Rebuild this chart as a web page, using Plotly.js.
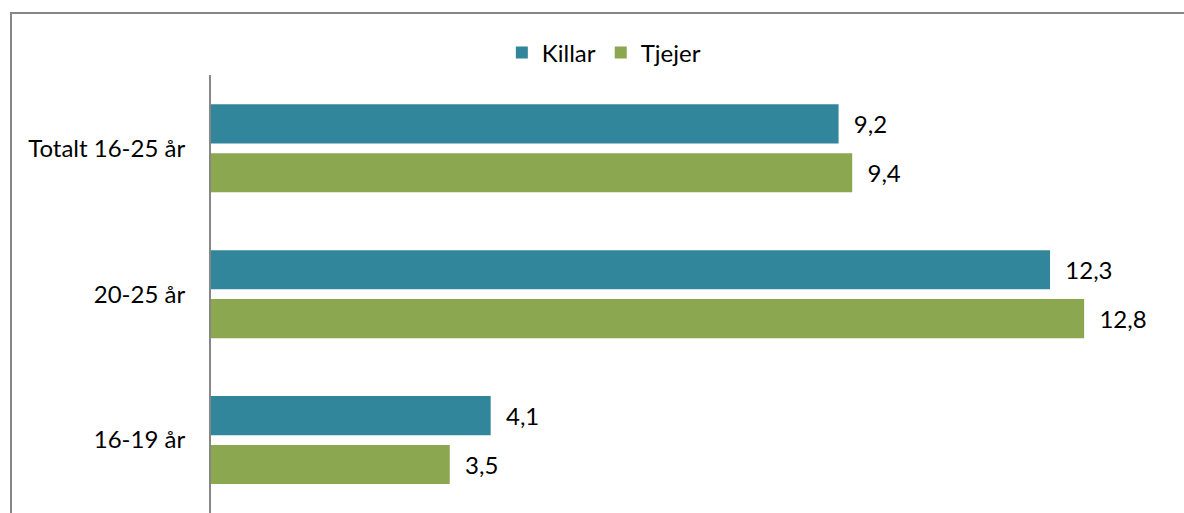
<!DOCTYPE html>
<html>
<head>
<meta charset="utf-8">
<script src="https://cdn.plot.ly/plotly-3.0.1.min.js"></script>
<style>
  html, body { margin: 0; padding: 0; background: #fff; }
  #wrap { position: relative; width: 1184px; height: 513px; overflow: hidden; }
  #chart { width: 1184px; height: 513px; }
  #frame { position: absolute; left: 10px; top: 12px; width: 1300px; height: 700px;
           border-left: 2px solid #868686; border-top: 2px solid #868686; pointer-events: none; }
</style>
</head>
<body>
<div id="wrap">
  <div id="chart"></div>
  <div id="frame"></div>
</div>
<script>
const categories = ['Totalt 16-25 år', '20-25 år', '16-19 år'];
const killar = [9.2, 12.3, 4.1];
const tjejer = [9.4, 12.8, 3.5];
const seriesNames = ['Killar', 'Tjejer'];

const font = 'Lato, "Open Sans", sans-serif';
const pad = '\u00a0\u00a0';

const traces = [
  {
    type: 'bar', orientation: 'h', name: seriesNames[0],
    y: categories, x: killar,
    marker: { color: '#31869B' },
    text: killar, texttemplate: pad + '%{x:.1f}', textposition: 'outside',
    textfont: { family: font, size: 24, color: '#000' },
    cliponaxis: false, hoverinfo: 'x+y'
  },
  {
    type: 'bar', orientation: 'h', name: seriesNames[1],
    y: categories, x: tjejer,
    marker: { color: '#8BA74F' },
    text: tjejer, texttemplate: pad + '%{x:.1f}', textposition: 'outside',
    textfont: { family: font, size: 24, color: '#000' },
    cliponaxis: false, hoverinfo: 'x+y'
  }
];

const layout = {
  width: 1184, height: 513,
  margin: { l: 211, r: 18, t: 74, b: 0 },
  paper_bgcolor: '#fff', plot_bgcolor: '#fff',
  separators: ', ',
  barmode: 'group', bargap: 0.33, bargroupgap: 0.2,
  font: { family: font, size: 24, color: '#000' },
  showlegend: true,
  legend: {
    orientation: 'h', xref: 'container', yref: 'container',
    x: 0.51, xanchor: 'center', y: 0.897, yanchor: 'middle',
    font: { family: font, size: 24, color: '#000' },
    itemwidth: 30, tracegroupgap: 0
  },
  xaxis: {
    range: [0, 14], showgrid: false, zeroline: false, showline: false,
    showticklabels: false, ticks: '', fixedrange: true
  },
  yaxis: {
    type: 'category', autorange: 'reversed',
    showline: true, linecolor: '#868686', linewidth: 2,
    showgrid: false, zeroline: false, ticks: '',
    ticklabelstandoff: 19,
    tickfont: { family: font, size: 24, color: '#000' },
    fixedrange: true
  }
};

Plotly.newPlot('chart', traces, layout, { displayModeBar: false, staticPlot: true });
</script>
</body>
</html>
